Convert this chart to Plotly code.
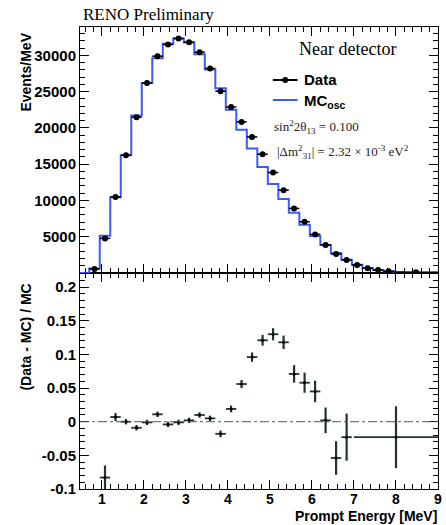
import plotly.graph_objects as go

# ---------------- data ----------------
# Top panel: data points (bin centres in MeV), events per MeV, half bin widths
data_energy = [0.825, 1.075, 1.325, 1.575, 1.825, 2.075, 2.325, 2.575, 2.825, 3.075,
               3.325, 3.575, 3.825, 4.075, 4.325, 4.575, 4.825, 5.075, 5.325, 5.575,
               5.825, 6.075, 6.325, 6.575, 6.825, 7.075, 7.325, 7.575, 7.825, 8.475]
data_events = [550, 4770, 10480, 16240, 21470, 26170, 29880, 31490, 32320, 31810,
               30430, 28190, 25060, 22880, 20820, 18750, 16370, 13850, 11420, 8900,
               7060, 5320, 3850, 2610, 1790, 1100, 650, 400, 250, 120]
data_halfwidth = [0.125] * 29 + [0.525]

# MC (oscillated) histogram: bin centres and contents
mc_energy = [0.575, 0.825, 1.075, 1.325, 1.575, 1.825, 2.075, 2.325, 2.575, 2.825,
             3.075, 3.325, 3.575, 3.825, 4.075, 4.325, 4.575, 4.825, 5.075, 5.325,
             5.575, 5.825, 6.075, 6.325, 6.575, 6.825, 7.075, 7.325, 7.575, 7.825,
             8.075, 8.325, 8.575, 8.825]
mc_events = [0, 620, 5150, 10450, 16240, 21700, 26200, 29600, 31600, 32300,
             31750, 30150, 28050, 25450, 22500, 19750, 17150, 14600, 12250, 10200,
             8300, 6650, 5100, 3850, 2750, 1830, 1130, 680, 410, 250,
             140, 80, 45, 25]
mc_bin_half = 0.125
axis_end = 9.0

# Bottom panel: (Data - MC)/MC
ratio_energy = [1.075, 1.325, 1.575, 1.825, 2.075, 2.325, 2.575, 2.825, 3.075, 3.325,
                3.575, 3.825, 4.075, 4.325, 4.575, 4.825, 5.075, 5.325, 5.575, 5.825,
                6.075, 6.325, 6.575, 6.825, 8.0]
ratio_value = [-0.083, 0.007, 0.0, -0.009, -0.001, 0.011, -0.004, -0.001, 0.002, 0.010,
               0.005, -0.018, 0.019, 0.056, 0.096, 0.121, 0.130, 0.118, 0.071, 0.058,
               0.045, 0.002, -0.054, -0.023, -0.023]
ratio_err = [0.018, 0.006, 0.004, 0.004, 0.004, 0.004, 0.004, 0.004, 0.004, 0.004,
             0.004, 0.005, 0.005, 0.006, 0.007, 0.008, 0.009, 0.010, 0.013, 0.015,
             0.016, 0.019, 0.025, 0.035, 0.046]
ratio_halfwidth = [0.125] * 24 + [1.0]

top_yticks = [5000, 10000, 15000, 20000, 25000, 30000]
top_yticktext = ["5000", "10000", "15000", "20000", "25000", "30000"]
bot_yticks = [-0.1, -0.05, 0, 0.05, 0.1, 0.15, 0.2]
bot_yticktext = ["-0.1", "-0.05", "0", "0.05", "0.1", "0.15", "0.2"]
x_ticks = [1, 2, 3, 4, 5, 6, 7, 8, 9]
x_ticktext = ["1", "2", "3", "4", "5", "6", "7", "8", "9"]

# ---------------- layout helpers ----------------
W, H = 446, 525
ML, MR, MT, MB = 80, 4, 27, 36
PW, PH = W - ML - MR, H - MT - MB
SPLIT = (489 - 273) / PH  # fraction for lower panel


def px_x(x):
    return (x - ML) / PW


def px_y(y):
    return (H - MB - y) / PH


SANS = "Liberation Sans"
SERIF = "Liberation Serif"
BLUE = "#3b5cf5"
ERRC = "#223333"

fig = go.Figure()

# MC step histogram
mc_x = [c - mc_bin_half for c in mc_energy] + [axis_end]
mc_y = mc_events + [mc_events[-1]]
fig.add_trace(go.Scatter(x=mc_x, y=mc_y, mode="lines", line=dict(color=BLUE, width=2, shape="hv"),
                         xaxis="x2", yaxis="y2", showlegend=False, hoverinfo="skip"))

# Data points
fig.add_trace(go.Scatter(x=data_energy, y=data_events, mode="markers",
                         marker=dict(color="black", size=6),
                         error_x=dict(type="data", array=data_halfwidth, color="black", thickness=1.5, width=0),
                         xaxis="x2", yaxis="y2", showlegend=False))

# Ratio points
fig.add_trace(go.Scatter(x=ratio_energy, y=ratio_value, mode="markers",
                         marker=dict(color="black", size=3),
                         error_x=dict(type="data", array=ratio_halfwidth, color=ERRC, thickness=1.8, width=0),
                         error_y=dict(type="data", array=ratio_err, color=ERRC, thickness=2.2, width=0),
                         xaxis="x", yaxis="y", showlegend=False))

tickfont = dict(family=SANS, size=15, color="black", weight="bold")
xtickfont = dict(family=SANS, size=14, color="black", weight="bold")
common = dict(showline=True, linecolor="black", linewidth=1, mirror="ticks", ticks="inside",
              tickcolor="black", showgrid=False, zeroline=False, ticklabeloverflow="allow")

fig.update_layout(
    width=W, height=H, margin=dict(l=ML, r=MR, t=MT, b=MB),
    paper_bgcolor="white", plot_bgcolor="white",
    xaxis=dict(domain=[0, 1], anchor="y", range=[0.48, 9], tickmode="array", tickvals=x_ticks,
               ticktext=x_ticktext, ticklen=9, ticklabelstandoff=-3,
               minor=dict(tickmode="linear", tick0=0, dtick=0.2, ticklen=5, ticks="inside", tickcolor="black"),
               tickfont=xtickfont, **common),
    yaxis=dict(domain=[0, SPLIT], anchor="x", range=[-0.1, 0.221], tickmode="array", tickvals=bot_yticks,
               ticktext=bot_yticktext, ticklen=9,
               minor=dict(tickmode="linear", tick0=0, dtick=0.01, ticklen=5, ticks="inside", tickcolor="black"),
               tickfont=tickfont, **common),
    xaxis2=dict(domain=[0, 1], anchor="y2", matches="x", range=[0.48, 9], tickmode="array", tickvals=x_ticks,
                ticklen=9, showticklabels=False,
                minor=dict(tickmode="linear", tick0=0, dtick=0.2, ticklen=5, ticks="inside", tickcolor="black"),
                **common),
    yaxis2=dict(domain=[SPLIT, 1], anchor="x2", range=[0, 33900], tickmode="array", tickvals=top_yticks,
                ticktext=top_yticktext, ticklen=9,
                minor=dict(tickmode="linear", tick0=0, dtick=1000, ticklen=5, ticks="inside", tickcolor="black"),
                tickfont=tickfont, **common),
)

# zero reference line in ratio panel
fig.add_shape(type="line", xref="x domain", yref="y", x0=0, x1=1, y0=0, y1=0,
              line=dict(color="#555555", width=1, dash="dashdot"))

ann = []
ann.append(dict(text="RENO Preliminary", x=px_x(81), y=px_y(26), xanchor="left", yanchor="bottom",
                font=dict(family=SERIF, size=17, color="black")))
ann.append(dict(text="Near detector", x=px_x(350), y=px_y(49), xanchor="center", yanchor="middle",
                font=dict(family=SERIF, size=18, color="black")))
ann.append(dict(text="Data", x=px_x(304), y=px_y(80), xanchor="left", yanchor="middle",
                font=dict(family=SANS, size=15, color="black", weight="bold")))
ann.append(dict(text="MC<sub>osc</sub>", x=px_x(304), y=px_y(101), xanchor="left", yanchor="middle",
                font=dict(family=SANS, size=15, color="black", weight="bold")))
ann.append(dict(text="sin<sup>2</sup>2θ<sub>13</sub> = 0.100", x=px_x(274), y=px_y(127),
                xanchor="left", yanchor="middle", font=dict(family=SERIF, size=13, color="#222")))
ann.append(dict(text="|Δm<sup>2</sup><sub>31</sub>| = 2.32 × 10<sup>-3</sup> eV<sup>2</sup>", x=px_x(277),
                y=px_y(152), xanchor="left", yanchor="middle", font=dict(family=SERIF, size=13, color="#222")))
ann.append(dict(text="Events/MeV", x=px_x(25), y=px_y(72), textangle=-90, xanchor="center", yanchor="middle",
                font=dict(family=SANS, size=14, color="black", weight="bold")))
ann.append(dict(text="(Data - MC) / MC", x=px_x(25), y=px_y(337), textangle=-90, xanchor="center",
                yanchor="middle", font=dict(family=SANS, size=14, color="black", weight="bold")))
ann.append(dict(text="Prompt Energy [MeV]", x=px_x(443), y=px_y(525.5), xanchor="right", yanchor="bottom",
                font=dict(family=SANS, size=14, color="black", weight="bold")))
for a in ann:
    a.update(xref="paper", yref="paper", showarrow=False)
fig.update_layout(annotations=ann)

# legend samples
fig.add_shape(type="line", xref="paper", yref="paper", x0=px_x(275), x1=px_x(300), y0=px_y(80), y1=px_y(80),
              line=dict(color="black", width=2))
fig.add_shape(type="circle", xref="paper", yref="paper", x0=px_x(284.5), x1=px_x(290.5),
              y0=px_y(83), y1=px_y(77), fillcolor="black", line=dict(color="black", width=0))
fig.add_shape(type="line", xref="paper", yref="paper", x0=px_x(275), x1=px_x(300), y0=px_y(100), y1=px_y(100),
              line=dict(color=BLUE, width=2))

fig.write_html("out.html")
